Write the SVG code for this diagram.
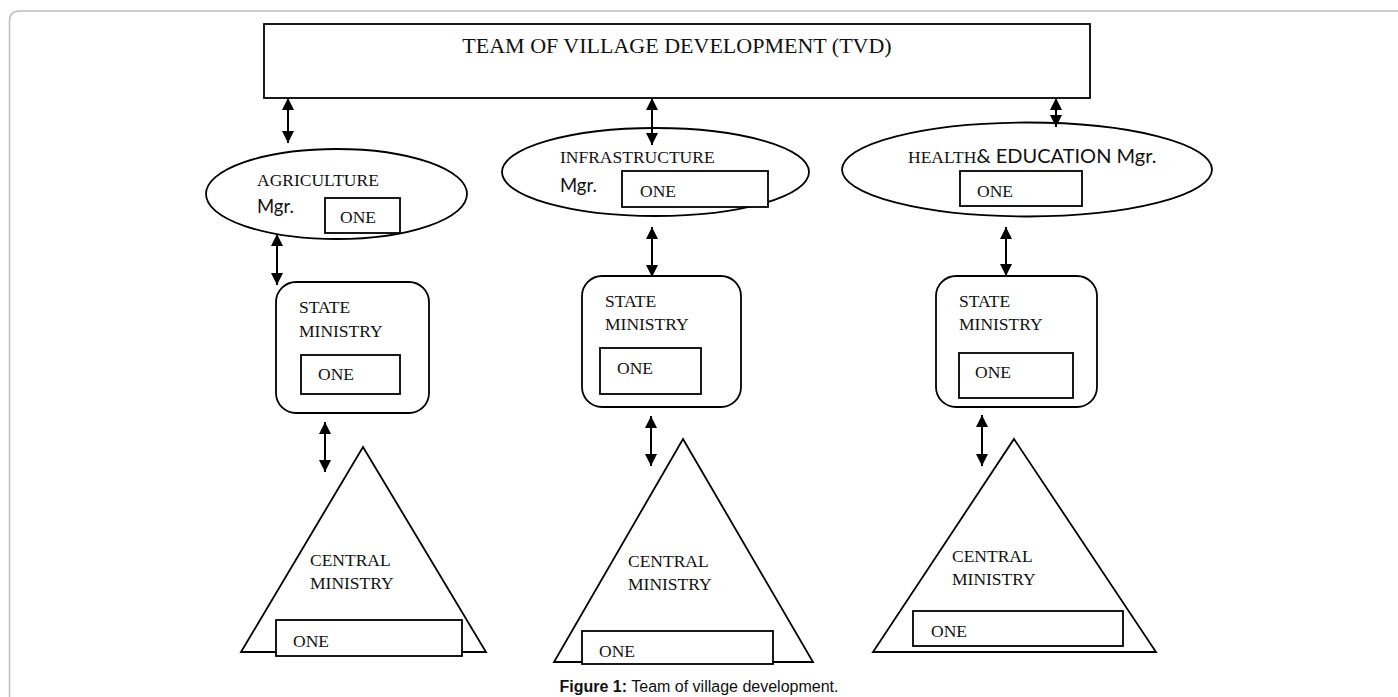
<svg xmlns="http://www.w3.org/2000/svg" width="1398" height="697" viewBox="0 0 1398 697">
<defs>
<marker id="ah" viewBox="0 0 12 12" refX="12" refY="6" markerWidth="12" markerHeight="12" markerUnits="userSpaceOnUse" orient="auto-start-reverse">
<path d="M0,0 L12,6 L0,12 z" fill="#000"/>
</marker>
<style>
.sh{fill:#fff;stroke:#000;stroke-width:1.8}
.t{font-family:"Liberation Serif","Times New Roman",serif;font-size:17.5px;fill:#111}
.s{font-family:Lato,"Open Sans",sans-serif;font-size:18.5px;fill:#111}
.c{stroke:#000;stroke-width:2;fill:none;marker-start:url(#ah);marker-end:url(#ah)}
</style>
</defs>
<rect width="1398" height="697" fill="#fff"/>
<path d="M9.5,697 V21 Q9.5,11 19.5,11 H1398" fill="none" stroke="#bdbdbd" stroke-width="1.5"/>

<g id="tvd">
<rect class="sh" x="264" y="24" width="826" height="74"/>
<text x="677" y="53" text-anchor="middle" style="font-family:'Liberation Serif','Times New Roman',serif;font-size:22px;fill:#111">TEAM OF VILLAGE DEVELOPMENT (TVD)</text>
</g>

<g id="agri-mgr">
<ellipse class="sh" cx="336.5" cy="194" rx="130.5" ry="45"/>
<text class="t" x="257" y="186">AGRICULTURE</text>
<text class="s" x="257" y="213">Mgr.</text>
<rect class="sh" x="325" y="198" width="75" height="35"/>
<text class="t" x="340" y="223">ONE</text>
</g>

<g id="infra-mgr">
<ellipse class="sh" cx="655.5" cy="172" rx="153.5" ry="44"/>
<text class="t" x="560" y="163">INFRASTRUCTURE</text>
<text class="s" x="560" y="192">Mgr.</text>
<rect class="sh" x="622" y="171" width="146" height="36"/>
<text class="t" x="640" y="197">ONE</text>
</g>

<g id="health-mgr">
<ellipse class="sh" cx="1027" cy="169.5" rx="185" ry="47"/>
<text x="908" y="163"><tspan class="t">HEALTH</tspan><tspan class="s" style="font-size:20px">&amp; EDUCATION Mgr.</tspan></text>
<rect class="sh" x="960" y="171" width="122" height="35"/>
<text class="t" x="977" y="197">ONE</text>
</g>

<g id="agri-state">
<rect class="sh" x="276" y="282" width="153" height="131" rx="20"/>
<text class="t" x="299" y="313">STATE</text>
<text class="t" x="299" y="337">MINISTRY</text>
<rect class="sh" x="301" y="355" width="99" height="39"/>
<text class="t" x="318" y="380">ONE</text>
</g>

<g id="infra-state">
<rect class="sh" x="582" y="276" width="159" height="131" rx="20"/>
<text class="t" x="605" y="307">STATE</text>
<text class="t" x="605" y="330">MINISTRY</text>
<rect class="sh" x="600" y="348" width="101" height="46"/>
<text class="t" x="617" y="374">ONE</text>
</g>

<g id="health-state">
<rect class="sh" x="936" y="276" width="161" height="131" rx="20"/>
<text class="t" x="959" y="307">STATE</text>
<text class="t" x="959" y="330">MINISTRY</text>
<rect class="sh" x="959" y="353" width="114" height="45"/>
<text class="t" x="975" y="378">ONE</text>
</g>

<g id="agri-central">
<polygon class="sh" points="363,447 486,652 241,652"/>
<text class="t" x="310" y="566">CENTRAL</text>
<text class="t" x="310" y="589">MINISTRY</text>
<rect class="sh" x="276" y="620" width="186" height="36"/>
<text class="t" x="293" y="647">ONE</text>
</g>

<g id="infra-central">
<polygon class="sh" points="683,439 813,662 554,662"/>
<text class="t" x="628" y="567">CENTRAL</text>
<text class="t" x="628" y="590">MINISTRY</text>
<rect class="sh" x="582" y="631" width="191" height="33"/>
<text class="t" x="599" y="657">ONE</text>
</g>

<g id="health-central">
<polygon class="sh" points="1014,439 1156,652 873,652"/>
<text class="t" x="952" y="562">CENTRAL</text>
<text class="t" x="952" y="585">MINISTRY</text>
<rect class="sh" x="913" y="611" width="210" height="35"/>
<text class="t" x="931" y="637">ONE</text>
</g>

<g id="connectors">
<line class="c" x1="288" y1="98" x2="288" y2="143"/>
<line class="c" x1="652" y1="98" x2="652" y2="145"/>
<line class="c" x1="1056" y1="98" x2="1056" y2="127"/>
<line class="c" x1="277" y1="234" x2="277" y2="285"/>
<line class="c" x1="652" y1="227" x2="652" y2="277"/>
<line class="c" x1="1006" y1="227" x2="1006" y2="276"/>
<line class="c" x1="325" y1="422" x2="325" y2="472"/>
<line class="c" x1="651" y1="416" x2="651" y2="466"/>
<line class="c" x1="982" y1="415" x2="982" y2="466"/>
</g>

<text x="699" y="692" text-anchor="middle" style="font-family:'Liberation Sans',Arial,sans-serif;font-size:16px;fill:#111"><tspan font-weight="bold">Figure 1:</tspan> Team of village development.</text>
</svg>
